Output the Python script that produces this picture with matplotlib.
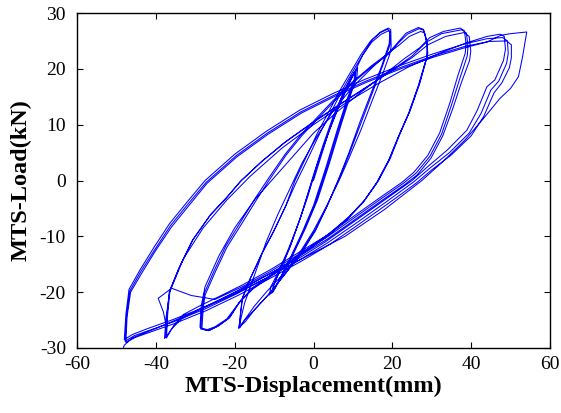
import matplotlib
matplotlib.use("Agg")
import matplotlib.pyplot as plt
import numpy as np

# ---- data: displacement (mm) / load (kN), level by level ----
disp_L10 = [0, 2, 4, 6, 8, 10, 11.2, 11.0, 9.5, 7, 4, 1, -2, -5, -7.5, -9.5, -10.3,
            -10.0, -8, -5.5, -3, 0, 2.5, 5, 7.5, 9.5, 10.8, 10.6, 9, 6.5, 3.5, 0.5, -2.5, -5.5, -8, -9.8, -10.6,
            -10.2, -8.5, -6, -3.5, -1, 1.5, 4, 6.5, 9, 10.5, 10.3, 8.5, 6, 3, 0, -3, -6, -8.5, -10.0, -11.2,
            -10.8, -9, -6.5, -4, -1.5, 1, 3.5, 6, 8.5]
load_L10 = [0, 4.5, 9, 13, 16.5, 19, 20.2, 18.5, 15.5, 10, 3, -3.5, -8.5, -13, -16.5, -19, -20,
            -18.5, -15.5, -11, -6, 1, 6.5, 11.5, 15.5, 18.5, 19.8, 18.2, 15, 9.5, 2.5, -4, -9, -13.5, -17, -19.2, -20.2,
            -18.8, -16, -12, -7, -1.5, 4, 9, 13.5, 17.5, 19.5, 18.0, 14.5, 9, 2, -4.5, -9.5, -14, -17.5, -19.5, -20.5,
            -19, -16.5, -12.5, -8, -3, 3, 8, 12.5, 16.5]

disp_L19 = [10.5, 12.5, 15, 17, 19, 19.6, 19.7, 19.3, 17.5, 15, 12, 9, 6.5, 3, 0, -4,
            -8, -12, -15, -17.5, -18.7, -18.5, -18, -16, -13, -10, -7, -4.7, -2, 1, 4,
            7, 9.5, 12, 14.5, 17, 18.8, 19.4, 19.2, 17.3, 14.8, 11.8, 9, 6.5, 3.5, 0.5, -3.5, -7.5,
            -11.5, -14.8, -17.3, -18.9, -18.6, -18.1, -16.2, -13.2, -10.2, -7.2, -4.5, -1.5, 1.5, 4.5,
            7.3, 9.8, 12.3, 14.8, 17.2, 19.0, 19.5, 19.4, 17.4, 15, 12, 9.2, 6.8, 3.5, 0.5, -3.5, -7.5,
            -11.5, -15, -17.5, -19.0]
load_L19 = [19.5, 22.5, 25.3, 26.6, 27.3, 27.0, 24.0, 22.5, 19, 14.5, 9, 4, 0, -5, -9, -13.5,
            -17, -20, -22.5, -25, -26.4, -24, -21, -17.5, -13, -9, -4.5, 0, 4, 8.5, 12.5,
            16.5, 19.5, 22.5, 25, 26.5, 27.1, 26.7, 24.5, 20.5, 16, 10.5, 5, 0.5, -4.5, -9, -13.5, -17,
            -20.5, -23, -25.3, -26.3, -24.2, -21.2, -17.8, -13.2, -9.2, -4.8, -0.5, 3.8, 8.3, 12.3,
            16.2, 19.3, 22.3, 24.8, 26.2, 26.8, 26.5, 24.3, 20.3, 15.8, 10.2, 5, 0.8, -4.5, -8.8, -13.3, -17,
            -20.5, -23.2, -25, -26.5]

disp_L27 = [-17.5, -15, -12, -9, -6, -3, 1, 5, 10, 15, 19, 21.5, 23.5, 26.6, 27.8, 28.7, 29.0,
            27, 24.5, 22, 19.5, 16.5, 13, 9, 4, -1, -6, -11, -15, -18.5, -21.2, -24, -26.3, -28.3,
            -28, -27.5, -25, -22, -18, -14.5, -11.3, -7, -3, 1, 5, 10, 15, 19, 21.5, 23.8, 26.8, 28, 28.8, 28.9,
            26.8, 24.3, 21.8, 19.2, 16.2, 12.8, 8.8, 3.8, -1.2, -6.2, -11.2, -15.2, -18.7, -21.5, -24.3, -26.6, -28.6,
            -28.3, -27.7, -25.3, -22.3, -18.3, -14.8, -11.5, -7.2, -3.2, 0.8, 4.8, 9.8, 14.8, 18.8, 21.8, 24.3, 27.2, 28.2, 28.9, 28.7,
            26.5, 24, 21.5, 19, 16, 12.5, 8.5, 3.5, -1.5, -6.5, -11.5, -15.5, -19, -22, -25, -27.3, -28.8]
load_L27 = [-22, -17, -11, -6, -1.5, 3, 8, 12.5, 16.8, 20.3, 22.8, 24.8, 26.4, 27.4, 27.1, 25.2, 22.8,
            17.5, 12.5, 8.5, 4, 0, -3.5, -6.5, -9.5, -12, -14.5, -17, -19, -21.5, -24.5, -26, -26.8, -26.5,
            -23, -20.5, -16.5, -12, -7.5, -3.5, 0, 4.5, 8, 11, 14, 17.5, 20.5, 22.6, 24.6, 26.2, 27.2, 26.9, 24.6, 22.3,
            17.2, 12.2, 8.2, 3.8, -0.2, -3.7, -6.7, -9.7, -12.2, -14.7, -17.2, -19.2, -21.7, -24.7, -26.1, -26.9, -26.6,
            -23.2, -20.2, -16.3, -11.8, -7.2, -3.2, 0.3, 4.7, 8.2, 11.2, 14.2, 17.6, 20.6, 22.7, 24.3, 25.8, 26.7, 26.4, 24.0, 22.0,
            16.8, 11.8, 7.8, 3.5, -0.5, -4, -7, -10, -12.5, -15, -17.5, -19.5, -22, -24.8, -26.2, -26.8, -26.3]

disp_L37 = [-28.5, -27.5, -24, -20, -15, -10, -5, 0, 6, 12, 18, 23, 27, 29.5, 33, 37.2, 38.3, 38.7, 38.5,
            36.5, 34.6, 32, 29, 25.5, 22.5, 17, 10, 3, -4, -11, -18, -24, -29, -33, -35.5, -36.8, -37.3,
            -37, -36.4, -34, -30.5, -26, -22, -18.3, -13, -7, 0, 7, 14, 20, 25, 28.7, 32.5, 37.6, 38.8, 39.2, 39.0,
            37, 35, 32.5, 29.5, 26, 22.8, 17.3, 10.3, 3.3, -3.7, -10.7, -17.7, -25, -31, -36, -39.4, -38.1, -37.3, -37.5,
            -37.2, -36.6, -34.2, -30.8, -26.3, -22.3, -18.6, -13.3, -7.3, -0.3, 6.7, 13.7, 19.7, 25, 29, 33.5, 38.2, 39.5, 39.9, 39.6,
            37.5, 35.4, 32.8, 29.8, 26.3, 23, 17.5, 10.5, 3.5, -3.5, -10.5, -17.5, -24, -29.5, -33.5, -36, -37.2, -37.8]
load_L37 = [-22.5, -19, -13.5, -8.5, -3.5, 0.5, 4.5, 8.5, 12.3, 15.8, 19, 21.8, 23.8, 25.6, 26.7, 27.3, 26.8, 24.5, 22.8,
            18.5, 13.9, 8.5, 4.5, 1.5, -0.3, -3, -6.5, -10, -13, -16, -18.7, -20.8, -22.5, -24, -26, -27.6, -28.2,
            -24, -19.6, -15.5, -10.5, -6, -3, 0, 3.5, 7, 10.5, 13.8, 17, 19.8, 22.3, 24.8, 26.3, 27, 26.4, 24, 22.3,
            18, 13.5, 8.3, 4.3, 1.3, -0.5, -3.2, -6.7, -10.2, -13.2, -16.2, -18.9, -21.3, -20.6, -19.3, -21.1, -23.5, -26.2, -28.0,
            -24.5, -20, -15.8, -10.8, -6.3, -3.3, -0.2, 3.3, 6.8, 10.3, 13.6, 16.8, 19.6, 22, 24.3, 25.8, 26.5, 25.8, 23.2, 21.5,
            17.5, 13, 8, 4, 1, -0.8, -3.5, -7, -10.5, -13.5, -16.5, -19.2, -21.5, -23.2, -24.8, -26.6, -27.8, -28.3]

disp_L47 = [-37.4, -36.5, -33, -28, -22, -16, -8, 0, 8, 16, 24, 32, 39, 44, 47.3, 48.4, 48.7, 48.2,
            46, 44, 41.5, 38.9, 34, 29, 25, 18, 10, 3, -3.4, -12, -20, -28, -36, -42, -46, -48,
            -47.6, -46.8, -44, -40.5, -36.5, -32, -27.5, -20, -12, -3.5, 5, 13, 22, 30, 38, 44, 48, 49.2, 49.4, 49,
            47, 45, 42.5, 39.5, 34.5, 29.5, 25.5, 18.5, 10.5, 3.5, -3, -11.5, -19.5, -27.5, -35.5, -41.5, -45.5, -47.8,
            -47.4, -46.6, -43.8, -40.2, -36.2, -31.7, -27.2, -19.7, -11.7, -3.2, 5.3, 13.3, 22.3, 30.3, 38.3, 44.5, 49, 50.2, 50.2, 49.7,
            47.8, 45.8, 43.2, 40, 35, 30, 26, 19, 11, 4, -2.7, -11.2, -19.2, -27.2, -35.2, -41.2, -45.2, -47.6,
            -47.3, -46.4, -43.5, -40, -36, -31.5, -27, -19.5, -11.5, -3, 5.5, 13.5, 22.5, 30.5, 38.5, 44, 47.5, 50, 54.1, 53, 52,
            50, 47.3, 43, 38.5, 33, 27.5, 18, 8, -3.4, -12, -20, -30, -40, -46, -48, -48.2]
load_L47 = [-24.5, -20, -14, -8.5, -3.5, 0.8, 5.8, 10, 13.8, 17.2, 20.3, 22.8, 24.7, 25.8, 26.2, 25.8, 23.5, 21.5,
            18, 16.8, 12.5, 9, 5.5, 2.5, 0, -3.5, -7.5, -11, -13.8, -17, -20, -22.8, -25, -26.5, -27.6, -28.5,
            -24, -19.5, -16, -12, -7.7, -3.8, 0, 4.7, 8.8, 12.6, 15.6, 18.1, 20.6, 22.6, 24.4, 25.4, 25.6, 25, 22.8, 21,
            17.8, 16.2, 12, 8.5, 5, 2.2, -0.2, -3.8, -7.8, -11.2, -14, -17.3, -20.3, -23, -25.3, -26.8, -27.8, -28.8,
            -24.2, -19.8, -16.3, -12.3, -8, -4.1, -0.3, 4.4, 8.5, 12.3, 15.3, 17.8, 20.3, 22.3, 24, 24.9, 25, 24.3, 22, 20.2,
            17.5, 15.7, 11.5, 8, 4.6, 1.9, -0.5, -4.1, -8.1, -11.5, -14.3, -17.6, -20.6, -23.3, -25.6, -27.1, -28.1, -29,
            -24.4, -20, -16.5, -12.5, -8.3, -4.4, -0.5, 4.2, 8.3, 12.1, 15.1, 17.6, 20.1, 22.1, 23.8, 24.8, 26, 26.3, 26.6, 22, 18.6,
            16.5, 14.7, 11, 7.3, 3.5, 0, -5.2, -10, -14.2, -17.5, -20.3, -23.5, -26.5, -28.2, -29.5, -29.9]

x_ticks = [-60, -40, -20, 0, 20, 40, 60]
y_ticks = [-30, -20, -10, 0, 10, 20, 30]
x_label = "MTS-Displacement(mm)"
y_label = "MTS-Load(kN)"

disp = np.concatenate([disp_L10, disp_L19, disp_L27, disp_L37, disp_L47])
load = np.concatenate([load_L10, load_L19, load_L27, load_L37, load_L47])

plt.rcParams['font.family'] = ['Liberation Serif', 'DejaVu Serif']
plt.rcParams['axes.unicode_minus'] = False

fig = plt.figure(figsize=(5.61, 4.13), dpi=100)
ax = fig.add_axes([77 / 561, 1 - 348 / 413, 473 / 561, 335 / 413])
ax.plot(disp, load, color='#0000ff', lw=0.75)

ax.set_xlim(-60, 60)
ax.set_ylim(-30, 30)
ax.set_xticks(x_ticks)
ax.set_yticks(y_ticks)
ax.tick_params(direction='in', length=4.5, width=0.8, top=True, right=True,
               labelsize=14, pad=6)
ax.tick_params(axis='y', pad=8)
for s in ax.spines.values():
    s.set_linewidth(1.0)
ax.set_xlabel(x_label, fontsize=17.5, fontweight='bold', labelpad=2)
ax.set_ylabel(y_label, fontsize=17.5, fontweight='bold', labelpad=6)

fig.savefig("out.png", dpi=100)
